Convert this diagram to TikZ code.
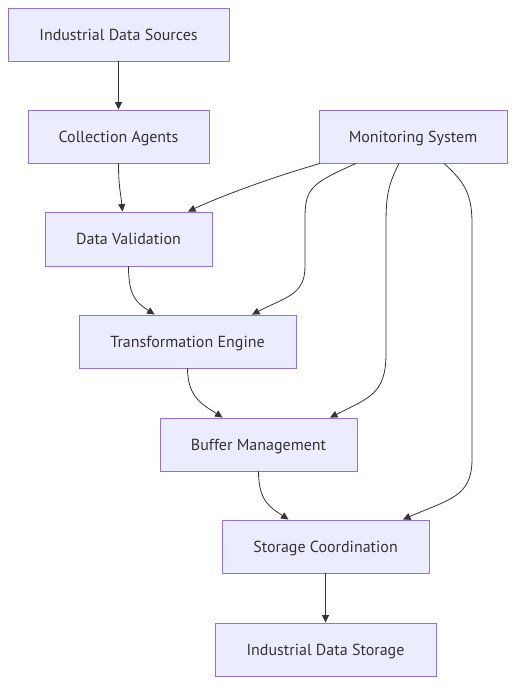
\documentclass[tikz,border=0pt]{standalone}
\usepackage{fontspec}
\setmainfont{PT Sans}
\usetikzlibrary{arrows.meta}
\definecolor{boxfill}{HTML}{ECECFF}
\definecolor{boxline}{HTML}{9370DB}
\definecolor{edge}{HTML}{333333}
\tikzset{
  box/.style={draw=boxline, fill=boxfill, line width=0.9pt, inner sep=0pt, text=edge, text height=12pt, text depth=1pt, font=\fontsize{16}{18}\selectfont},
  link/.style={draw=edge, line width=0.8pt, -{Triangle[length=7.5pt,width=7pt]}}
}
\begin{document}
\begin{tikzpicture}[x=1pt,y=-1pt]
\useasboundingbox (0,0) rectangle (523,694);
\node[box, minimum width=221pt, minimum height=53pt] (src) at (118.5,34.5) {Industrial Data Sources};
\node[box, minimum width=181pt, minimum height=53pt] (col) at (118.5,136.5) {Collection Agents};
\node[box, minimum width=188pt, minimum height=53pt] (mon) at (413,136.5) {Monitoring System};
\node[box, minimum width=167pt, minimum height=54pt] (val) at (128.5,239) {Data Validation};
\node[box, minimum width=217pt, minimum height=53pt] (tra) at (187.5,341.5) {Transformation Engine};
\node[box, minimum width=197pt, minimum height=53pt] (buf) at (258.5,444.5) {Buffer Management};
\node[box, minimum width=207pt, minimum height=53pt] (sco) at (325.5,546.5) {Storage Coordination};
\node[box, minimum width=221pt, minimum height=53pt] (sto) at (325.5,649.5) {Industrial Data Storage};

\draw[link] (src) -- (col);
\draw[link] (col.south) .. controls +(0,22) and +(-2,-20) .. ([xshift=-6pt]val.north);
\draw[link] ([xshift=-93pt]mon.south) .. controls +(-55,16) and +(30,-14) .. ([xshift=59.5pt]val.north);
\draw[link] (val.south) .. controls +(0,30) and +(-18,-12) .. ([xshift=-33pt]tra.north);
\draw[link] ([xshift=-57pt]mon.south) .. controls +(-45,20) and +(0,-30) .. ++(-51,55) -- ++(0,48) .. controls +(0,28) and +(35,-18) .. ([xshift=64.5pt]tra.north);
\draw[link] (tra.south) .. controls +(0,30) and +(-18,-12) .. ([xshift=-36pt]buf.north);
\draw[link] ([xshift=-14pt]mon.south) .. controls +(-10,20) and +(0,-30) .. ++(-13,60) -- ++(0,130) .. controls +(0,40) and +(40,-20) .. ([xshift=71.5pt]buf.north);
\draw[link] (buf.south) .. controls +(0,30) and +(-18,-12) .. ([xshift=-37pt]sco.north);
\draw[link] ([xshift=31pt]mon.south) .. controls +(20,18) and +(0,-30) .. ++(28,60) -- ++(0,236) .. controls +(0,38) and +(45,-20) .. ([xshift=77.5pt]sco.north);
\draw[link] (sco) -- (sto);
\end{tikzpicture}
\end{document}
